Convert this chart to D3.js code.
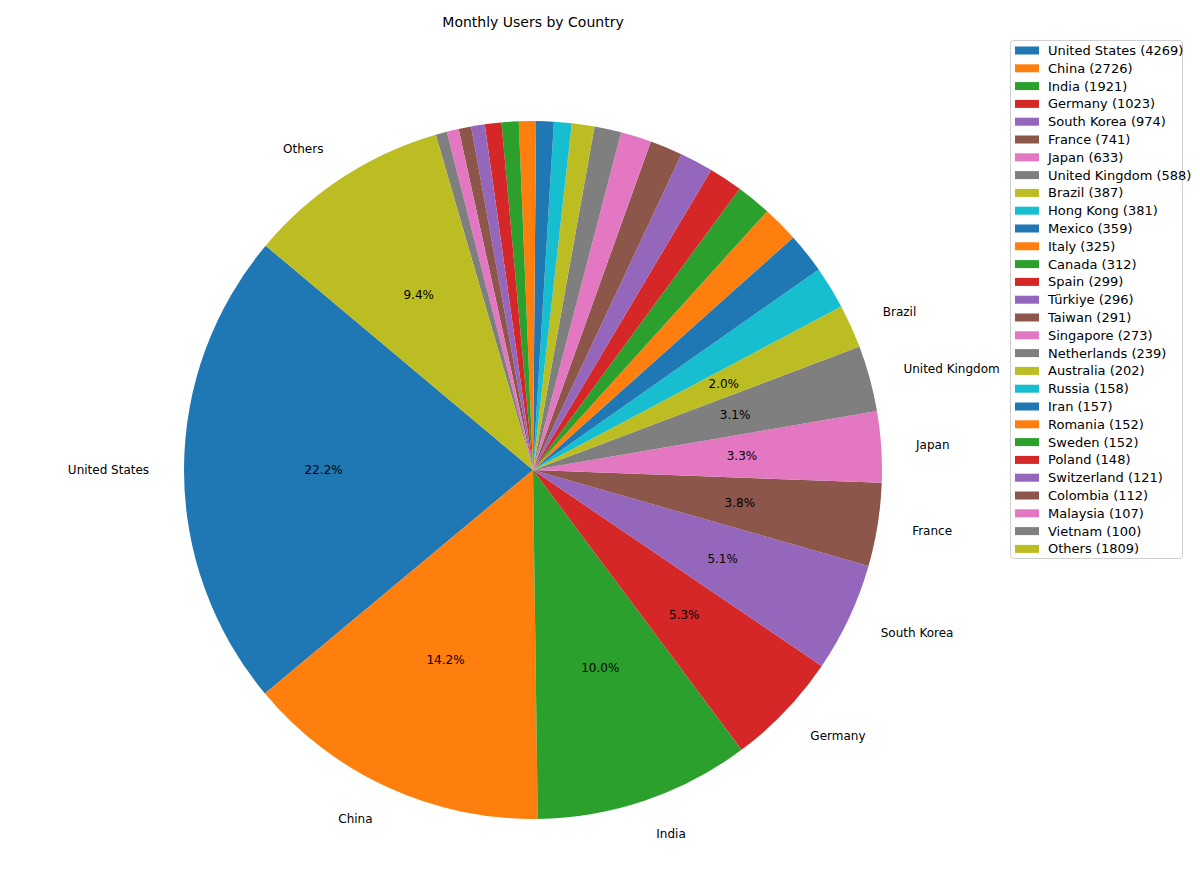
<!DOCTYPE html>
<html>
<head>
<meta charset="utf-8">
<script src="https://cdn.jsdelivr.net/npm/d3@7"></script>
<style>
  body { margin: 0; background: #fff; }
  text { font-family: "DejaVu Sans", sans-serif; }
</style>
</head>
<body>
<div id="chart"></div>
<script>
const countries = ["United States", "China", "India", "Germany", "South Korea", "France", "Japan",
  "United Kingdom", "Brazil", "Hong Kong", "Mexico", "Italy", "Canada", "Spain", "Türkiye", "Taiwan",
  "Singapore", "Netherlands", "Australia", "Russia", "Iran", "Romania", "Sweden", "Poland",
  "Switzerland", "Colombia", "Malaysia", "Vietnam", "Others"];
const users = [4269, 2726, 1921, 1023, 974, 741, 633, 588, 387, 381, 359, 325, 312, 299, 296, 291,
  273, 239, 202, 158, 157, 152, 152, 148, 121, 112, 107, 100, 1809];
const palette = ["#1f77b4", "#ff7f0e", "#2ca02c", "#d62728", "#9467bd",
  "#8c564b", "#e377c2", "#7f7f7f", "#bcbd22", "#17becf"];
const minPct = 2; // labels only for slices of 2% and more

const width = 1200, height = 872;
const cx = 533, cy = 470, radius = 349;

let svg = d3.select("#chart")
    .append("svg")
    .attr("width", width)
    .attr("height", height);

let data = countries.map((c, i) => ({country: c, value: users[i]}));
let total = d3.sum(users);

let color = d3.scaleOrdinal()
    .domain(countries)
    .range(countries.map((c, i) => palette[i % palette.length]));

// matplotlib startangle=140, counterclockwise
let start = (90 - 140) * Math.PI / 180;
let pie = d3.pie()
    .sort(null)
    .value(d => d.value)
    .startAngle(start)
    .endAngle(start - 2 * Math.PI);

let arcs = pie(data);
let arc = d3.arc().innerRadius(0).outerRadius(radius);

let g = svg.append("g").attr("transform", `translate(${cx}, ${cy})`);

g.selectAll("path")
    .data(arcs)
    .enter()
    .append("path")
    .attr("d", arc)
    .attr("fill", d => color(d.data.country));

let shown = arcs.filter(d => d.data.value / total * 100 >= minPct);

// outer labels
g.selectAll("text.lbl")
    .data(shown)
    .enter()
    .append("text")
    .attr("class", "lbl")
    .attr("x", d => 1.1 * radius * Math.sin((d.startAngle + d.endAngle) / 2))
    .attr("y", d => -1.1 * radius * Math.cos((d.startAngle + d.endAngle) / 2))
    .attr("dy", "0.35em")
    .style("text-anchor", d => Math.sin((d.startAngle + d.endAngle) / 2) > 0 ? "start" : "end")
    .style("font-size", "12px")
    .text(d => d.data.country);

// percentages
g.selectAll("text.pct")
    .data(shown)
    .enter()
    .append("text")
    .attr("class", "pct")
    .attr("x", d => 0.6 * radius * Math.sin((d.startAngle + d.endAngle) / 2))
    .attr("y", d => -0.6 * radius * Math.cos((d.startAngle + d.endAngle) / 2))
    .attr("dy", "0.35em")
    .style("text-anchor", "middle")
    .style("font-size", "12px")
    .text(d => (d.data.value / total * 100).toFixed(1) + "%");

svg.append("text")
    .attr("x", cx)
    .attr("y", 22)
    .attr("dy", "0.35em")
    .style("text-anchor", "middle")
    .style("font-size", "14px")
    .text("Monthly Users by Country");

// legend
let legend = svg.append("g").attr("transform", "translate(1010, 40)");
let rowStep = 17.8;

legend.append("rect")
    .attr("x", 0.5)
    .attr("y", 0.5)
    .attr("width", 172)
    .attr("height", 518)
    .attr("rx", 3)
    .attr("fill", "#fff")
    .attr("fill-opacity", 0.8)
    .attr("stroke", "#d0d0d0");

let rows = legend.selectAll("g.row")
    .data(data)
    .enter()
    .append("g")
    .attr("class", "row")
    .attr("transform", (d, i) => `translate(0, ${10.5 + i * rowStep})`);

rows.append("rect")
    .attr("x", 5)
    .attr("y", -4)
    .attr("width", 24)
    .attr("height", 8)
    .attr("fill", d => color(d.country));

rows.append("text")
    .attr("x", 38)
    .attr("dy", "0.35em")
    .style("font-size", "13px")
    .text(d => `${d.country} (${d.value})`);
</script>
</body>
</html>
